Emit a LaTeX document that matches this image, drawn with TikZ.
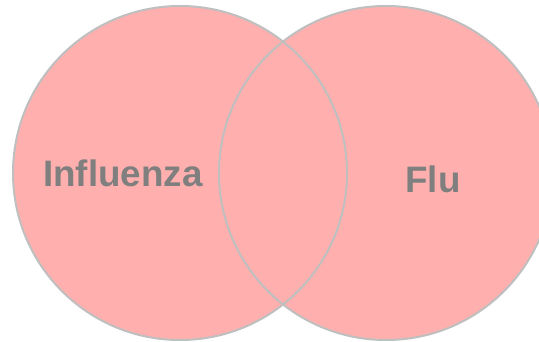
\documentclass[tikz,border=0pt]{standalone}
\usepackage{fontspec}
\setmainfont{Liberation Sans}
\usetikzlibrary{positioning}
\definecolor{setfill}{RGB}{255,176,174}
\definecolor{setline}{RGB}{191,191,191}
\definecolor{labelgray}{RGB}{127,127,127}

\begin{document}
\begin{tikzpicture}[x=1pt,y=-1pt,font=\bfseries\fontsize{36.8}{40}\selectfont]
    \useasboundingbox (0,0) rectangle (539,342);
    \tikzset{set/.style={circle,minimum size=334pt,inner sep=0pt,fill=setfill},
             setname/.style={text=labelgray,inner sep=0pt}}
    \node (A) [set] at (180,173) {};
    \node (B) [set] at (386,173) {};
    \draw [setline,line width=2pt] (A.center) circle (167pt);
    \draw [setline,line width=2pt] (B.center) circle (167pt);
    \node (Influenza) [setname] at (123,173) {Influenza};
    \node (Flu) [setname] at (433,179) {Flu};
\end{tikzpicture}
\end{document}
